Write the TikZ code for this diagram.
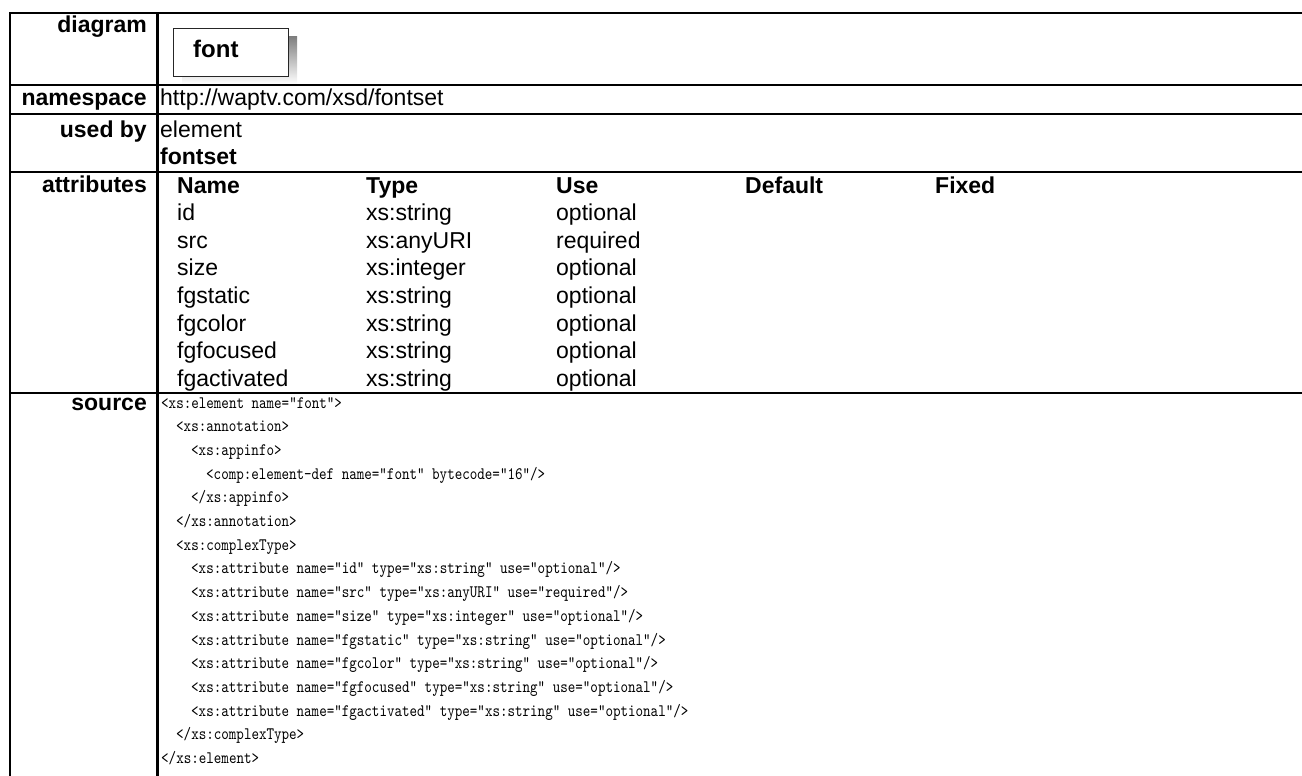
\documentclass[tikz,border=0pt]{standalone}
\usepackage{fontspec}
\setmainfont{Liberation Sans}
\newfontfamily\codefont{lmmono10-regular.otf}[FakeStretch=0.82]
\definecolor{shade}{HTML}{C4C4C4}
\tikzset{
  rule/.style={line width=2.5pt, line cap=rect},
  label/.style={anchor=base east, inner sep=0pt, font=\fontsize{23}{27}\selectfont\bfseries},
  cell/.style={anchor=base west, inner sep=0pt, font=\fontsize{23}{27}\selectfont},
  colhead/.style={cell, font=\fontsize{23}{27}\selectfont\bfseries},
  code/.style={anchor=base west, inner sep=0pt, font=\fontsize{17.5}{20}\codefont},
  elembox/.style={draw=black!85, line width=1.3pt, fill=white, anchor=north west,
    minimum width=115pt, minimum height=48pt, inner sep=0pt},
}

\begin{document}
\begin{tikzpicture}[x=1pt, y=-1pt]
    \useasboundingbox (0,0) rectangle (1302,776);

    % table rules
    \draw[rule] (1302,13) -- (10,13) -- (10,790);
    \draw[rule] (157.5,13) -- (157.5,790);
    \draw[rule] (10,85) -- (1310,85);
    \draw[rule] (10,114) -- (1310,114);
    \draw[rule] (10,172) -- (1310,172);
    \draw[rule] (10,393) -- (1310,393);

    % row labels
    \node at (147,33) (diagram) [label] {diagram};
    \node at (147,106) (namespace) [label] {namespace};
    \node at (147,137) (usedby) [label] {used by};
    \node at (147,192) (attributes) [label] {attributes};
    \node at (147,410) (source) [label] {source};

    % diagram
    \fill[shade] (182,37) rectangle (297,84);
    \node at (173,28) (font) [elembox] {};
    \node at (193,58) (fontname) [anchor=base west, inner sep=0pt,
      font=\fontsize{24}{28}\selectfont\bfseries] {font};

    % namespace, used by
    \node at (160,106) (nsuri) [cell] {http://waptv.com/xsd/fontset};
    \node at (160,137) (kind) [cell] {element};
    \node at (160,164) (fontset) [cell, font=\fontsize{23}{27}\selectfont\bfseries] {fontset};

    % attributes
    \node at (177,193) (name) [colhead] {Name};
    \node at (366,193) (type) [colhead] {Type};
    \node at (556,193) (use) [colhead] {Use};
    \node at (745,193) (default) [colhead] {Default};
    \node at (935,193) (fixed) [colhead] {Fixed};

    \node at (177,220.6) (id) [cell] {id};
    \node at (366,220.6) (idtype) [cell] {xs:string};
    \node at (556,220.6) (iduse) [cell] {optional};
    \node at (177,248.2) (src) [cell] {src};
    \node at (366,248.2) (srctype) [cell] {xs:anyURI};
    \node at (556,248.2) (srcuse) [cell] {required};
    \node at (177,275.8) (size) [cell] {size};
    \node at (366,275.8) (sizetype) [cell] {xs:integer};
    \node at (556,275.8) (sizeuse) [cell] {optional};
    \node at (177,303.4) (fgstatic) [cell] {fgstatic};
    \node at (366,303.4) (fgstatictype) [cell] {xs:string};
    \node at (556,303.4) (fgstaticuse) [cell] {optional};
    \node at (177,331) (fgcolor) [cell] {fgcolor};
    \node at (366,331) (fgcolortype) [cell] {xs:string};
    \node at (556,331) (fgcoloruse) [cell] {optional};
    \node at (177,358.6) (fgfocused) [cell] {fgfocused};
    \node at (366,358.6) (fgfocusedtype) [cell] {xs:string};
    \node at (556,358.6) (fgfocuseduse) [cell] {optional};
    \node at (177,386.2) (fgactivated) [cell] {fgactivated};
    \node at (366,386.2) (fgactivatedtype) [cell] {xs:string};
    \node at (556,386.2) (fgactivateduse) [cell] {optional};

    % source
    \node at (161,408) (l1) [code] {<xs:element name="font">};
    \node at (176,431.7) (l2) [code] {<xs:annotation>};
    \node at (191,455.4) (l3) [code] {<xs:appinfo>};
    \node at (206,479.1) (l4) [code] {<comp:element-def name="font" bytecode="16"/>};
    \node at (191,502.8) (l5) [code] {</xs:appinfo>};
    \node at (176,526.5) (l6) [code] {</xs:annotation>};
    \node at (176,550.2) (l7) [code] {<xs:complexType>};
    \node at (191,573.9) (l8) [code] {<xs:attribute name="id" type="xs:string" use="optional"/>};
    \node at (191,597.6) (l9) [code] {<xs:attribute name="src" type="xs:anyURI" use="required"/>};
    \node at (191,621.3) (l10) [code] {<xs:attribute name="size" type="xs:integer" use="optional"/>};
    \node at (191,645) (l11) [code] {<xs:attribute name="fgstatic" type="xs:string" use="optional"/>};
    \node at (191,668.7) (l12) [code] {<xs:attribute name="fgcolor" type="xs:string" use="optional"/>};
    \node at (191,692.4) (l13) [code] {<xs:attribute name="fgfocused" type="xs:string" use="optional"/>};
    \node at (191,716.1) (l14) [code] {<xs:attribute name="fgactivated" type="xs:string" use="optional"/>};
    \node at (176,739.8) (l15) [code] {</xs:complexType>};
    \node at (161,763.5) (l16) [code] {</xs:element>};
\end{tikzpicture}
\end{document}
